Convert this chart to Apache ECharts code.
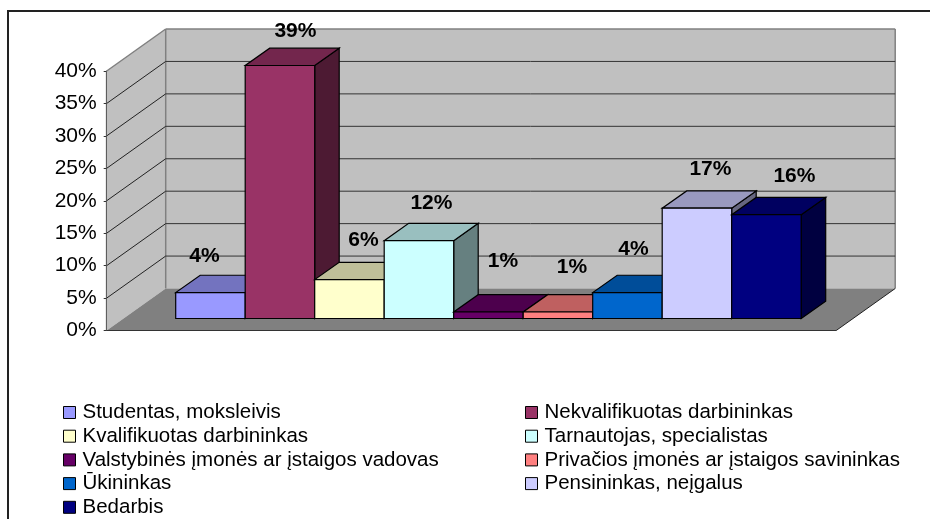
<!DOCTYPE html>
<html>
<head>
<meta charset="utf-8">
<style>html,body{margin:0;padding:0;background:#fff}#c{width:930px;height:519px}</style>
<script src="https://cdn.jsdelivr.net/npm/echarts@6/dist/echarts.min.js"></script>
</head>
<body>
<div id="c"></div>
<script>
const categories = ['Studentas, moksleivis','Nekvalifikuotas darbininkas','Kvalifikuotas darbininkas','Tarnautojas, specialistas','Valstybinės įmonės ar įstaigos vadovas','Privačios įmonės ar įstaigos savininkas','Ūkininkas','Pensininkas, neįgalus','Bedarbis'];
const values = [4,39,6,12,1,1,4,17,16];
const colors = ['#9999FF','#993366','#FFFFCC','#CCFFFF','#660066','#FF8080','#0066CC','#CCCCFF','#000080'];
const ticks = [0,5,10,15,20,25,30,35,40];
const leftLegend = categories.filter((_, i) => i % 2 === 0);
const rightLegend = categories.filter((_, i) => i % 2 === 1);
// hand-placed label displacement from each bar's front-top centre
const labelShift = [[-6,-36.5],[15.5,-34.5],[14,-39.5],[12.5,-37.5],[14.5,-50.5],[14,-44.5],[6,-43.5],[13.5,-39.5],[28,-38.5]];

const FONT = '"Liberation Sans", Arial, sans-serif';
const WALL = [59,-42], BAR_FRONT = [17,-12], BAR_DEPTH = [24.5,-17.3], SIDE_GAP = 52;

function shade(hex, k){
  const n = parseInt(hex.slice(1),16);
  const f = s => Math.round(((n>>s)&255)*k);
  return 'rgb('+f(16)+','+f(8)+','+f(0)+')';
}
function poly(points, fill, stroke, lw){
  return {type:'polygon', shape:{points}, style:{fill, stroke:stroke||'none', lineWidth:lw||0}};
}
function line(a,b,stroke,lw){
  return {type:'line', shape:{x1:a[0],y1:a[1],x2:b[0],y2:b[1]}, style:{stroke, lineWidth:lw}};
}
function renderWalls(params, api){
  const s = params.coordSys;
  const L = s.x - SIDE_GAP, R = s.x + s.width + SIDE_GAP;
  const y0 = api.coord([0,0])[1], y1 = api.coord([0,40])[1];
  const [dx,dy] = WALL;
  return {type:'group', children:[
    poly([[L+dx,y1+dy],[R+dx,y1+dy],[R+dx,y0+dy],[L+dx,y0+dy]], '#C0C0C0'),
    poly([[L,y1],[L+dx,y1+dy],[L+dx,y0+dy],[L,y0]], '#C0C0C0'),
    poly([[L,y0],[L+dx,y0+dy],[R+dx,y0+dy],[R,y0]], '#808080'),
    line([L,y1],[L+dx,y1+dy],'#808080',1.5),
    line([L+dx,y1+dy],[R+dx,y1+dy],'#808080',1.5),
    line([L+dx,y1+dy],[L+dx,y0+dy],'#808080',1.5),
    line([R+dx,y1+dy],[R+dx,y0+dy],'#808080',1.5),
    line([L,y0],[R,y0],'#333',1.2),
    line([R,y0],[R+dx,y0+dy],'#222',1)
  ]};
}
function renderGrid(params, api){
  const v = api.value(1);
  if (v === 0 || v === 40) return {type:'group', children:[]};
  const s = params.coordSys;
  const L = s.x - SIDE_GAP, R = s.x + s.width + SIDE_GAP;
  const y = api.coord([0,v])[1];
  const [dx,dy] = WALL;
  return {type:'group', children:[
    line([L,y],[L+dx,y+dy],'#222',1),
    line([L+dx,y+dy],[R+dx,y+dy],'#333',1)
  ]};
}
function renderBar(i){
  return function(params, api){
    const top = api.coord([i, api.value(1)]), base = api.coord([i,0]);
    const w = api.size([1,0])[0];
    const x0 = top[0]-w/2+BAR_FRONT[0], x1 = top[0]+w/2+BAR_FRONT[0];
    const yb = base[1]+BAR_FRONT[1], yt = top[1]+BAR_FRONT[1];
    const [dx,dy] = BAR_DEPTH;
    const c = colors[i];
    return {type:'group', children:[
      poly([[x1,yb],[x1+dx,yb+dy],[x1+dx,yt+dy],[x1,yt]], shade(c,0.5), '#000', 1.2),
      poly([[x0,yt],[x1,yt],[x1+dx,yt+dy],[x0+dx,yt+dy]], shade(c,0.75), '#000', 1.2),
      poly([[x0,yb],[x1,yb],[x1,yt],[x0,yt]], c, '#000', 1.2)
    ]};
  };
}
function renderLabel(i){
  return function(params, api){
    const top = api.coord([i, api.value(1)]);
    return {type:'text', style:{
      text: api.value(1)+'%',
      x: top[0]+BAR_FRONT[0]+labelShift[i][0],
      y: top[1]+BAR_FRONT[1]+labelShift[i][1],
      fill:'#000', fontFamily:FONT, fontWeight:'bold', fontSize:21,
      align:'center', verticalAlign:'middle'
    }};
  };
}
const barSeries = categories.map((name,i)=>({
  type:'custom', name, z:10+i, silent:true, animation:false, clip:false,
  itemStyle:{color:colors[i]},
  encode:{x:0,y:1},
  data:[[i,values[i]]],
  renderItem:renderBar(i)
}));
const labelSeries = categories.map((name,i)=>({
  type:'custom', name:name, z:40, silent:true, animation:false, clip:false,
  itemStyle:{color:colors[i]},
  encode:{x:0,y:1},
  data:[[i,values[i]]],
  renderItem:renderLabel(i)
}));
const legendCommon = {
  orient:'vertical', top:402, height:160, padding:0, itemWidth:12, itemHeight:12, itemGap:2.7, icon:'rect',
  itemStyle:{borderColor:'#000',borderWidth:1},
  textStyle:{fontFamily:FONT,fontSize:20.5,color:'#000',padding:[0,0,0,2]},
  selectedMode:false
};
const chart = echarts.init(document.getElementById('c'),null,{renderer:'canvas'});
chart.setOption({
  animation:false,
  backgroundColor:'#fff',
  graphic:[{type:'rect',shape:{x:8,y:11,width:1000,height:1000},style:{fill:'none',stroke:'#222',lineWidth:2},silent:true,z:-1}],
  grid:{left:158.7,width:625.5,top:71,height:259.5,containLabel:false},
  xAxis:{type:'category',data:categories,show:false},
  yAxis:{type:'value',min:0,max:40,interval:5,offset:52,
    axisLine:{show:true,lineStyle:{color:'#333',width:1.2}},
    axisTick:{show:true,length:3,lineStyle:{color:'#333'}},
    axisLabel:{formatter:'{value}%',margin:10,fontFamily:FONT,fontSize:21,color:'#000',padding:[2,0,0,0]},
    splitLine:{show:false}},
  legend:[
    Object.assign({},legendCommon,{left:63,data:leftLegend}),
    Object.assign({},legendCommon,{left:525,data:rightLegend})
  ],
  series:[
    {type:'custom',name:'_walls',z:1,silent:true,animation:false,clip:false,encode:{x:0,y:1},data:[[0,0]],renderItem:renderWalls},
    {type:'custom',name:'_grid',z:2,silent:true,animation:false,clip:false,encode:{x:0,y:1},data:ticks.map(t=>[0,t]),renderItem:renderGrid}
  ].concat(barSeries,labelSeries)
});
</script>
</body>
</html>
